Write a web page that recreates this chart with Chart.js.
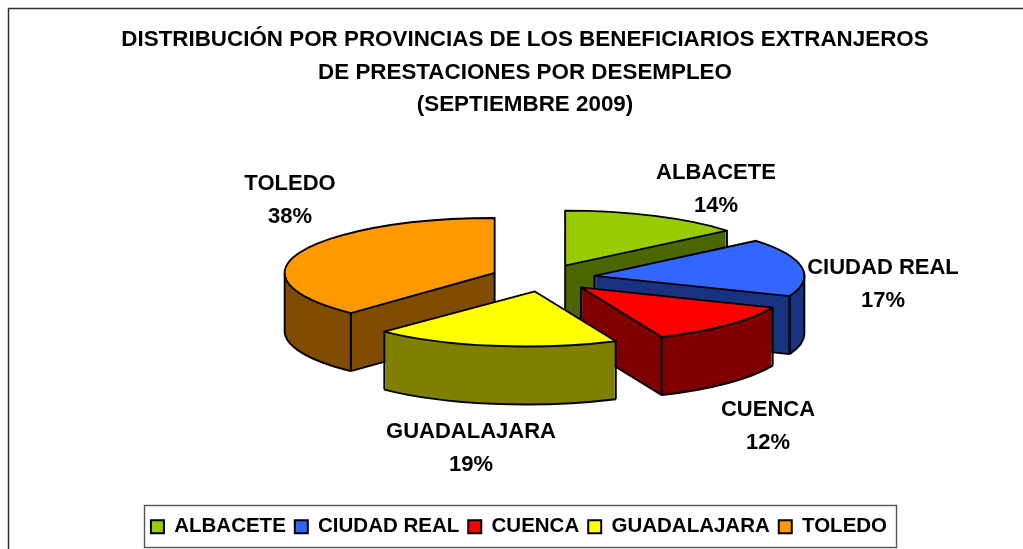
<!DOCTYPE html>
<html><head><meta charset="utf-8">
<style>html,body{margin:0;padding:0;background:#fff;overflow:hidden}canvas{display:block}</style>
<script src="https://cdn.jsdelivr.net/npm/chart.js@4"></script></head>
<body><canvas id="c" width="1023" height="549"></canvas>
<script>
const categories = ['ALBACETE','CIUDAD REAL','CUENCA','GUADALAJARA','TOLEDO'];
const percentages = [14,17,12,19,38];
const titleLines = ['DISTRIBUCIÓN POR PROVINCIAS DE LOS BENEFICIARIOS EXTRANJEROS','DE PRESTACIONES POR DESEMPLEO','(SEPTIEMBRE 2009)'];
const topColors = ['#99CC00','#3366FF','#FF0000','#FFFF00','#FF9900'];
const wallColors = ['#4D6600','#1A3380','#800000','#808000','#804D00'];
const labelCentres = [[716,173],[883,268],[768,410],[471,432],[290,184]];
const paintOrder = [0,4,1,2,3];
const sliceSkew = [0,0,-0.17,-0.17,0];
const FONT = '"Liberation Sans", Arial, sans-serif';
const geo = {cx:543, cy:278, k:0.262, explode:52, depth:58, radius:210};

const pie3d = {
  id:'pie3d',
  afterUpdate(chart){
    chart.legend.left-=6; chart.legend.right-=6;
  },
  beforeDraw(chart){
    const c=chart.ctx; c.save(); c.fillStyle='#fff'; c.fillRect(0,0,1023,549);
    c.strokeStyle='#333'; c.lineWidth=1.5;
    c.beginPath(); c.moveTo(8.5,549); c.lineTo(8.5,8.5); c.lineTo(1023,8.5); c.stroke();
    c.strokeStyle='#555'; c.lineWidth=1.4;
    c.strokeRect(144.5,505.5,752,42);
    c.restore();
  },
  beforeDatasetDraw(chart,args){
    const c=chart.ctx, meta=args.meta, {cx,cy,k,explode,depth}=geo;
    const eps=1e-6;
    for(const i of paintOrder){
      const el=meta.data[i], a0=el.startAngle, a1=el.endAngle, R=el.outerRadius, mid=(a0+a1)/2;
      const tx=cx+Math.cos(mid)*explode, ty=cy+Math.sin(mid)*explode*k, sk=sliceSkew[i];
      const base=el.options;
      const stamp=(dy,color)=>{
        el.options=Object.assign({},base,{backgroundColor:color,borderWidth:0});
        c.save(); c.translate(tx,ty+dy); c.transform(1,0,sk,1,0,0); c.scale(1,k); c.translate(-el.x,-el.y); el.draw(c); c.restore();
      };
      for(let d=depth;d>0;d--) stamp(d,wallColors[i]);
      stamp(0,topColors[i]);
      el.options=base;
      const px=a=>tx+R*Math.cos(a)+sk*R*k*Math.sin(a), py=a=>ty+R*k*Math.sin(a);
      const arc=(dy,s,e)=>{
        c.save(); c.translate(tx,ty+dy); c.transform(1,0,sk,1,0,0);
        c.ellipse(0,0,R,R*k,0,s,e); c.restore();
      };
      c.save(); c.strokeStyle='#000'; c.lineWidth=1.9; c.lineJoin='round';
      c.beginPath();
      c.moveTo(tx,ty); c.lineTo(px(a0),py(a0));
      arc(0,a0,a1); c.closePath(); c.stroke();
      const vert=(x,y)=>{c.beginPath();c.moveTo(x,y);c.lineTo(x,y+depth);c.stroke();};
      const face=a=>{
        vert(tx,ty); vert(px(a),py(a));
        c.beginPath();c.moveTo(tx,ty+depth);c.lineTo(px(a),py(a)+depth);c.stroke();
      };
      if(Math.cos(a1)>eps) face(a1);
      if(Math.cos(a0)<-eps) face(a0);
      const s=Math.max(a0,0), e=Math.min(a1,Math.PI);
      if(e>s){
        vert(px(s),py(s)); vert(px(e),py(e));
        c.beginPath(); arc(depth,s,e); c.stroke();
      }
      c.restore();
    }
    return false;
  },
  afterDraw(chart){
    const c=chart.ctx; c.save();
    c.font='bold 22px '+FONT; c.fillStyle='#000'; c.textAlign='center'; c.textBaseline='middle';
    categories.forEach((n,i)=>{
      const [x,y]=labelCentres[i];
      c.fillText(n,x,y); c.fillText(percentages[i]+'%',x,y+32.5);
    });
    c.restore();
  }
};

new Chart(document.getElementById('c'),{
  type:'pie',
  data:{labels:categories,datasets:[{data:percentages,backgroundColor:topColors,borderWidth:0}]},
  plugins:[pie3d],
  options:{
    responsive:false,animation:false,events:[],radius:geo.radius,
    layout:{padding:{left:27,top:23,bottom:2}},
    plugins:{
      tooltip:{enabled:false},
      title:{display:true,text:titleLines,color:'#000',font:{family:FONT,size:22.4,weight:'bold',lineHeight:1.47},padding:{top:0,bottom:0}},
      legend:{display:true,position:'bottom',
        labels:{color:'#000',font:{family:FONT,size:20.5,weight:'bold'},boxWidth:13,boxHeight:13,padding:9,
          generateLabels(chart){
            return categories.map((t,i)=>({text:t,fillStyle:topColors[i],strokeStyle:'#000',lineWidth:2,index:i,hidden:false}));
          }}}
    }
  }
});
</script></body></html>
